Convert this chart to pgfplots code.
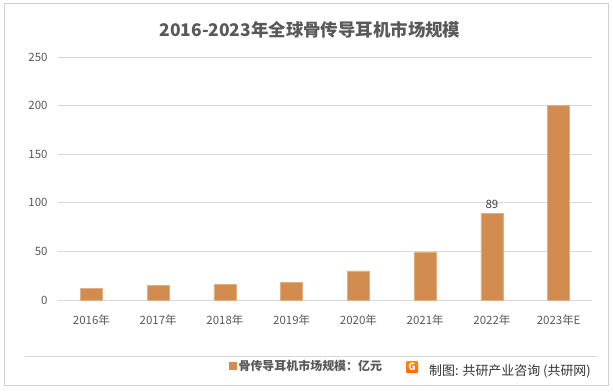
\documentclass[border=0pt]{standalone}
\usepackage{pgfplots}
\pgfplotsset{compat=1.18}
\usepackage{fontspec}
\setmainfont{Noto Sans CJK SC}
\definecolor{barc}{HTML}{D38C4F}
\definecolor{txt}{HTML}{595959}
\definecolor{gridc}{HTML}{D9D9D9}
\definecolor{frame}{HTML}{D0D0D0}
\begin{document}
\begin{tikzpicture}[x=1bp,y=1bp]
\path[fill=white] (0,0) rectangle (613,391);
\draw[frame, line width=1bp] (4,6) rectangle (608,387);
\draw[gridc, line width=0.8bp] (25,35) -- (597,35);
\node[font=\fontsize{17.5}{20}\selectfont\bfseries, text=txt] at (310,361) {2016-2023年全球骨传导耳机市场规模};
\begin{axis}[
  at={(58bp,91bp)}, anchor=south west,
  scale only axis, width=534bp, height=243bp,
  xmin=-0.5, xmax=7.5, ymin=0, ymax=250,
  ytick={0,50,100,150,200,250},
  xtick={0,...,7},
  xticklabels={2016年,2017年,2018年,2019年,2020年,2021年,2022年,2023年E},
  axis line style={draw=none},
  major tick style={draw=none},
  ymajorgrids, grid style={gridc, line width=0.8bp},
  tick label style={font=\fontsize{11.5}{13}\selectfont, text=txt},
  /pgf/number format/assume math mode=true,
  yticklabel shift=7bp,
  xticklabel shift=11bp,
  legend style={draw=none, fill=none, at={(0.320,-0.2716)}, anchor=west,
    font=\fontsize{12}{14}\selectfont\bfseries, text=txt, inner sep=0pt},
  legend image code/.code={\fill[barc] (0bp,-3.5bp) rectangle (7bp,3.5bp);},
]
\addplot[ybar, bar width=22bp, fill=barc, draw=barc!70!white, line width=0.5bp,
  nodes near coords, point meta=explicit symbolic,
  every node near coord/.append style={font=\fontsize{11.5}{13}\selectfont, text=black!75, yshift=1bp}]
  coordinates {(0,12) (1,15) (2,16) (3,18) (4,30) (5,49) (6,89)[89] (7,200)};
\addlegendentry{骨传导耳机市场规模：亿元}
\end{axis}
\shade[top color=orange!90!yellow, bottom color=orange!80!red, rounded corners=1bp] (406,18) rectangle (418,30);
\node[text=white, font=\fontsize{10}{10}\selectfont\bfseries, inner sep=0] at (412,24) {G};
\node[anchor=west, font=\fontsize{13}{15}\selectfont, text=black!80, inner sep=0] at (429,20) {制图: 共研产业咨询 (共研网)};
\end{tikzpicture}
\end{document}
